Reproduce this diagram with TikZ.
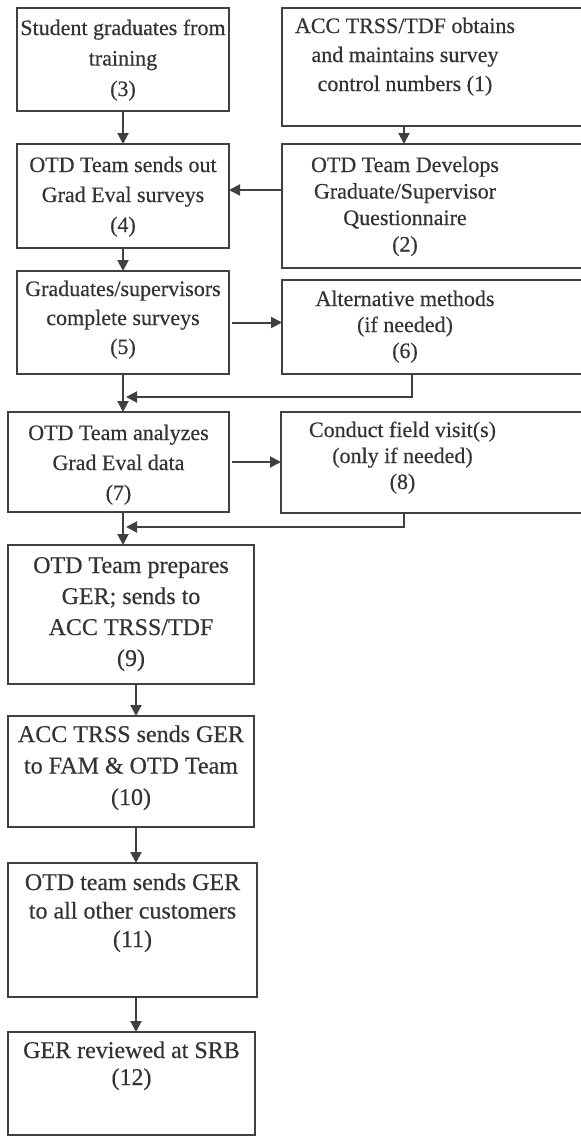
\documentclass[tikz,border=0pt]{standalone}
\usepackage{fontspec}
\setmainfont[FakeBold=0.4]{Liberation Serif}
\usetikzlibrary{arrows.meta,calc}
\definecolor{ink}{gray}{0.2}
\definecolor{linec}{gray}{0.25}
\newcommand\bx[7]{\parbox[c][#2pt][t]{#1pt}{\centering\fontsize{#5}{#4}\selectfont\rule{0pt}{#3pt}#6\par}\hspace*{#7pt}}
\tikzset{
  stepbox/.style={draw=linec, line width=2pt, inner sep=0pt, outer sep=0pt, text=ink, rectangle},
  arr/.style={draw=linec, line width=2pt, -{Triangle[length=11pt,width=11pt]}},
}
\begin{document}
\begin{tikzpicture}[x=1pt,y=-1pt]
\useasboundingbox (0,0) rectangle (581,1136);
\clip (0,0) rectangle (581,1136);
\fill[white] (0,0) rectangle (581,1136);
% left column
\node[stepbox] (n3) at (123,59.5) {\bx{212}{103}{27}{30.5}{22}{Student graduates from\\training\\(3)}{0}};
\node[stepbox] (n4) at (123,196) {\bx{212}{104}{28}{30}{22}{OTD Team sends out\\Grad Eval surveys\\(4)}{0}};
\node[stepbox] (n5) at (123,322.5) {\bx{212}{103}{25}{29}{22}{Graduates/supervisors\\complete surveys\\(5)}{0}};
\node[stepbox] (n7) at (118.5,462) {\bx{221}{100}{28}{30}{22}{OTD Team analyzes\\Grad Eval data\\(7)}{0}};
\node[stepbox] (n9) at (131,614.5) {\bx{246}{139}{28}{31}{24}{OTD Team prepares\\GER; sends to\\ACC TRSS/TDF\\(9)}{0}};
\node[stepbox] (n10) at (131,771.5) {\bx{246}{111}{26}{31.5}{24}{ACC TRSS sends GER\\to FAM \& OTD Team\\(10)}{0}};
\node[stepbox] (n11) at (132.5,930) {\bx{249}{134}{27}{28.5}{24}{OTD team sends GER\\to all other customers\\(11)}{0}};
\node[stepbox] (n12) at (131.5,1083.5) {\bx{247}{103}{26}{27}{24}{GER reviewed at SRB\\(12)}{0}};
% right column
\node[stepbox] (n1) at (441,67) {\bx{246}{118}{25}{29}{22}{ACC TRSS/TDF obtains\\and maintains survey\\control numbers (1)}{72}};
\node[stepbox] (n2) at (441,206) {\bx{246}{124}{28}{26.5}{22}{OTD Team Develops\\Graduate/Supervisor\\Questionnaire\\(2)}{72}};
\node[stepbox] (n6) at (441,327) {\bx{246}{94}{26}{26}{22}{Alternative methods\\(if needed)\\(6)}{72}};
\node[stepbox] (n8) at (440.5,462.5) {\bx{243}{101}{25}{26}{22}{Conduct field visit(s)\\(only if needed)\\(8)}{76}};
% merge points
\coordinate (m1) at (126,397);
\coordinate (m2) at (126,527);
% connectors
\draw[arr] (n3.south) -- (n4.north);
\draw[arr] ([xshift=122pt]n1.south west) -- ([xshift=122pt]n2.north west);
\draw[arr] ([yshift=6pt]n4.east -| n2.west) -- ([yshift=6pt]n4.east);
\draw[arr] (n4.south) -- (n5.north);
\draw[arr] ([xshift=3pt]n5.east) -- (n5.east -| n6.west);
\draw[arr] (n5.south) -- (n5.south |- n7.north);
\draw[arr] ([xshift=130pt]n6.south west) |- (m1);
\draw[arr] ([xshift=3pt]n7.east) -- (n7.east -| n8.west);
\draw[arr] ([xshift=4.5pt]n7.south) -- ([xshift=4.5pt]n7.south |- n9.north);
\draw[arr] ([xshift=123pt]n8.south west) |- (m2);
\draw[arr] ([xshift=5pt]n9.south) -- ([xshift=5pt]n10.north);
\draw[arr] ([xshift=5pt]n10.south) -- ([xshift=3.5pt]n11.north);
\draw[arr] ([xshift=3.5pt]n11.south) -- ([xshift=4.5pt]n12.north);
\end{tikzpicture}
\end{document}
